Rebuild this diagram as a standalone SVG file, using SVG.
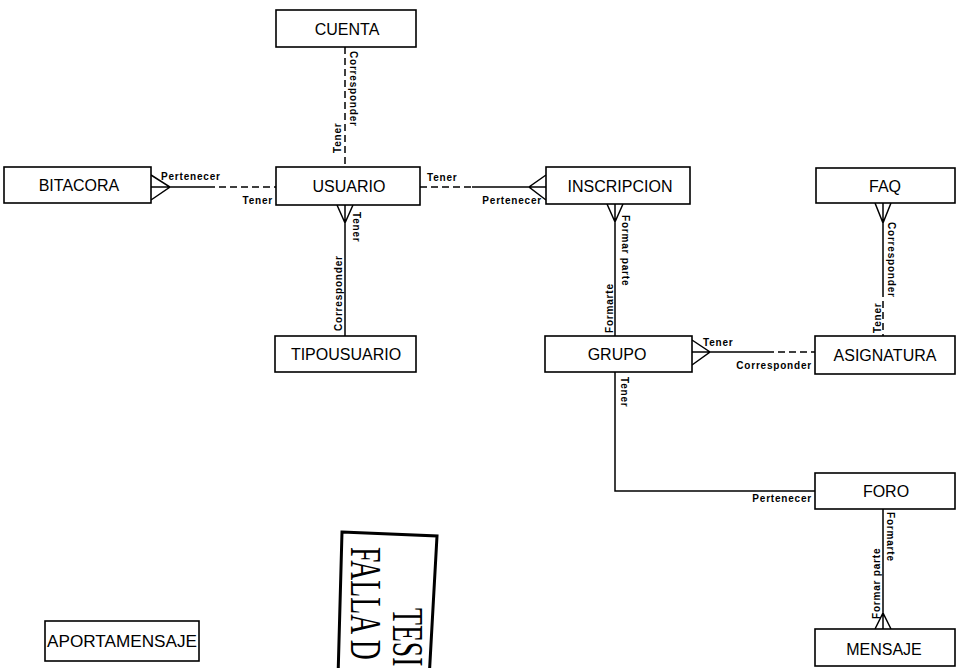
<svg xmlns="http://www.w3.org/2000/svg" width="963" height="668" viewBox="0 0 963 668">
<style>
.box rect{fill:#fff;stroke:#000;stroke-width:1.6}
.box text{font-family:"Liberation Sans",Arial,sans-serif;font-size:16px;text-anchor:middle;fill:#000}
.ln{stroke:#000;stroke-width:1.5;fill:none}
.dash{stroke-dasharray:7 4}
.rl{font-family:"Liberation Sans",Arial,sans-serif;font-size:10px;font-weight:bold;letter-spacing:0.8px;fill:#000}
.stamp{font-family:"Liberation Serif","Times New Roman",serif;font-size:44px;fill:#000}
</style>
<rect width="963" height="668" fill="#fff"/>
<g id="connectors">
  <!-- CUENTA - USUARIO -->
  <line class="ln dash" x1="345" y1="47" x2="345" y2="167"/>
  <text class="rl" transform="translate(350,51) rotate(90)">Corresponder</text>
  <text class="rl" transform="translate(341,153) rotate(-90)">Tener</text>
  <!-- BITACORA - USUARIO -->
  <path class="ln" d="M151,175 L170,187 L151,200 M151,187 L208,187"/>
  <line class="ln dash" x1="208" y1="187" x2="276" y2="187"/>
  <text class="rl" x="161" y="180">Pertenecer</text>
  <text class="rl" x="273" y="204" text-anchor="end">Tener</text>
  <!-- USUARIO - INSCRIPCION -->
  <line class="ln dash" x1="420" y1="187" x2="472" y2="187"/>
  <path class="ln" d="M472,187 L546,187 M546,175 L529,187 L546,200"/>
  <text class="rl" x="427" y="181">Tener</text>
  <text class="rl" x="542" y="204" text-anchor="end">Pertenecer</text>
  <!-- USUARIO - TIPOUSUARIO -->
  <path class="ln" d="M337,205 L345,223 L353,205 M345,205 L345,336"/>
  <text class="rl" transform="translate(353,212) rotate(90)">Tener</text>
  <text class="rl" transform="translate(342,331) rotate(-90)">Corresponder</text>
  <!-- INSCRIPCION - GRUPO -->
  <path class="ln" d="M607,204 L615,222 L623,204 M615,204 L615,336"/>
  <text class="rl" transform="translate(622,215) rotate(90)">Formar parte</text>
  <text class="rl" transform="translate(613,333) rotate(-90)">Formarte</text>
  <!-- GRUPO - ASIGNATURA -->
  <path class="ln" d="M692,340 L710,352 L692,365 M692,352 L767,352"/>
  <line class="ln dash" x1="767" y1="352" x2="815" y2="352"/>
  <text class="rl" x="703" y="346">Tener</text>
  <text class="rl" x="812" y="369" text-anchor="end">Corresponder</text>
  <!-- FAQ - ASIGNATURA -->
  <path class="ln" d="M875,203 L883,223 L891,203 M883,203 L883,290"/>
  <line class="ln dash" x1="883" y1="290" x2="883" y2="336"/>
  <text class="rl" transform="translate(888,222) rotate(90)">Corresponder</text>
  <text class="rl" transform="translate(881,333) rotate(-90)">Tener</text>
  <!-- GRUPO - FORO -->
  <path class="ln" d="M615,372 L615,491 L815,491"/>
  <text class="rl" transform="translate(621,377) rotate(90)">Tener</text>
  <text class="rl" x="812" y="502" text-anchor="end">Pertenecer</text>
  <!-- FORO - MENSAJE -->
  <path class="ln" d="M883,509 L883,629 M875,629 L883,613 L891,629"/>
  <text class="rl" transform="translate(887,512) rotate(90)">Formarte</text>
  <text class="rl" transform="translate(880,619) rotate(-90)">Formar parte</text>
</g>
<g id="CUENTA" class="box"><rect x="276" y="10" width="140" height="37"/><text x="347" y="35">CUENTA</text></g>
<g id="USUARIO" class="box"><rect x="276" y="167" width="144" height="38"/><text x="349" y="192">USUARIO</text></g>
<g id="BITACORA" class="box"><rect x="4" y="167" width="147" height="36"/><text x="79" y="191">BITACORA</text></g>
<g id="INSCRIPCION" class="box"><rect x="546" y="167" width="144" height="37"/><text x="620" y="192">INSCRIPCION</text></g>
<g id="FAQ" class="box"><rect x="816" y="168" width="139" height="35"/><text x="885" y="192">FAQ</text></g>
<g id="TIPOUSUARIO" class="box"><rect x="275" y="336" width="141" height="36"/><text x="346" y="360">TIPOUSUARIO</text></g>
<g id="GRUPO" class="box"><rect x="545" y="336" width="147" height="36"/><text x="617" y="360">GRUPO</text></g>
<g id="ASIGNATURA" class="box"><rect x="815" y="336" width="140" height="38"/><text x="885" y="361">ASIGNATURA</text></g>
<g id="FORO" class="box"><rect x="815" y="473" width="140" height="36"/><text x="886" y="497">FORO</text></g>
<g id="MENSAJE" class="box"><rect x="815" y="629" width="140" height="37"/><text x="884" y="655">MENSAJE</text></g>
<g id="APORTAMENSAJE" class="box"><rect x="45" y="621" width="154" height="40"/><text x="122" y="647" textLength="150" lengthAdjust="spacingAndGlyphs">APORTAMENSAJE</text></g>
<g id="stamp">
  <polygon points="342,532 437,536 429,680 338,678" fill="none" stroke="#000" stroke-width="3"/>
  <text class="stamp" transform="translate(393,608) rotate(90) scale(0.63,1)">TESI</text>
  <text class="stamp" transform="translate(351,547) rotate(90) scale(0.63,1)">FALLA D</text>
</g>
</svg>
